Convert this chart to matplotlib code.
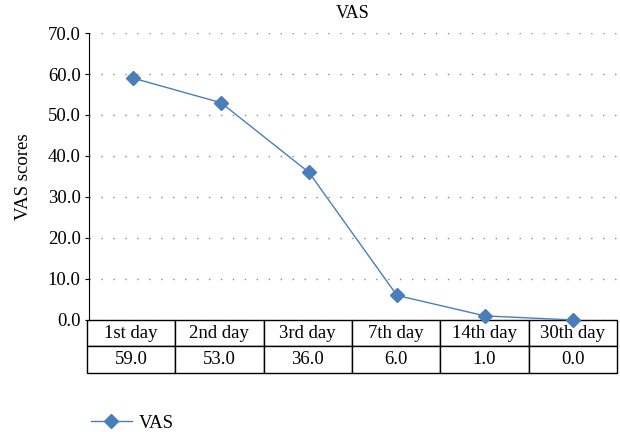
import numpy as np
import matplotlib.pyplot as plt

plt.rcParams['font.family'] = ['Liberation Serif', 'DejaVu Serif']

days = ["1st day", "2nd day", "3rd day", "7th day", "14th day", "30th day"]
vas = [59.0, 53.0, 36.0, 6.0, 1.0, 0.0]
yticks = [0, 10, 20, 30, 40, 50, 60, 70]
blue = "#4a7ebb"

fig = plt.figure(figsize=(6.2, 4.32), dpi=100)
ax = fig.add_axes([0.1435, 0.2593, 0.8515, 0.6643])

x = np.arange(len(days))
line, = ax.plot(x, vas, color=blue, lw=1, marker="D", markersize=7.5,
                markerfacecolor=blue, markeredgecolor=blue, label="VAS", clip_on=False, zorder=5)

ax.set_xlim(-0.5, len(days) - 0.5)
ax.set_ylim(0, 70)
ax.set_yticks(yticks)
ax.set_yticklabels(["%.1f" % v for v in yticks], fontsize=13.5)
ax.set_xticks([])
ax.yaxis.grid(True, linestyle=(0, (1, 7.6)), color="#8a8a8a", lw=1)
ax.set_axisbelow(True)
for s in ["top", "right", "bottom"]:
    ax.spines[s].set_visible(False)
ax.spines["left"].set_color("black")
ax.tick_params(axis="y", length=3, pad=3)
ax.set_ylabel("VAS scores", fontsize=13.5, labelpad=11)
ax.set_title("VAS", fontsize=13, pad=11)

tbl = ax.table(cellText=[["%.1f" % v for v in vas]], colLabels=days,
               cellLoc="center", bbox=[-0.004, -0.1847, 1.004, 0.1847])
tbl.auto_set_font_size(False)
tbl.set_fontsize(13.5)
for cell in tbl.get_celld().values():
    cell.set_edgecolor("black")
    cell.set_linewidth(1)

fig.legend(handles=[line], loc="center left", bbox_to_anchor=(0.119, 0.02),
           frameon=False, fontsize=13.5, handlelength=2.2, handletextpad=0.35)

fig.savefig("out.png", dpi=100)
